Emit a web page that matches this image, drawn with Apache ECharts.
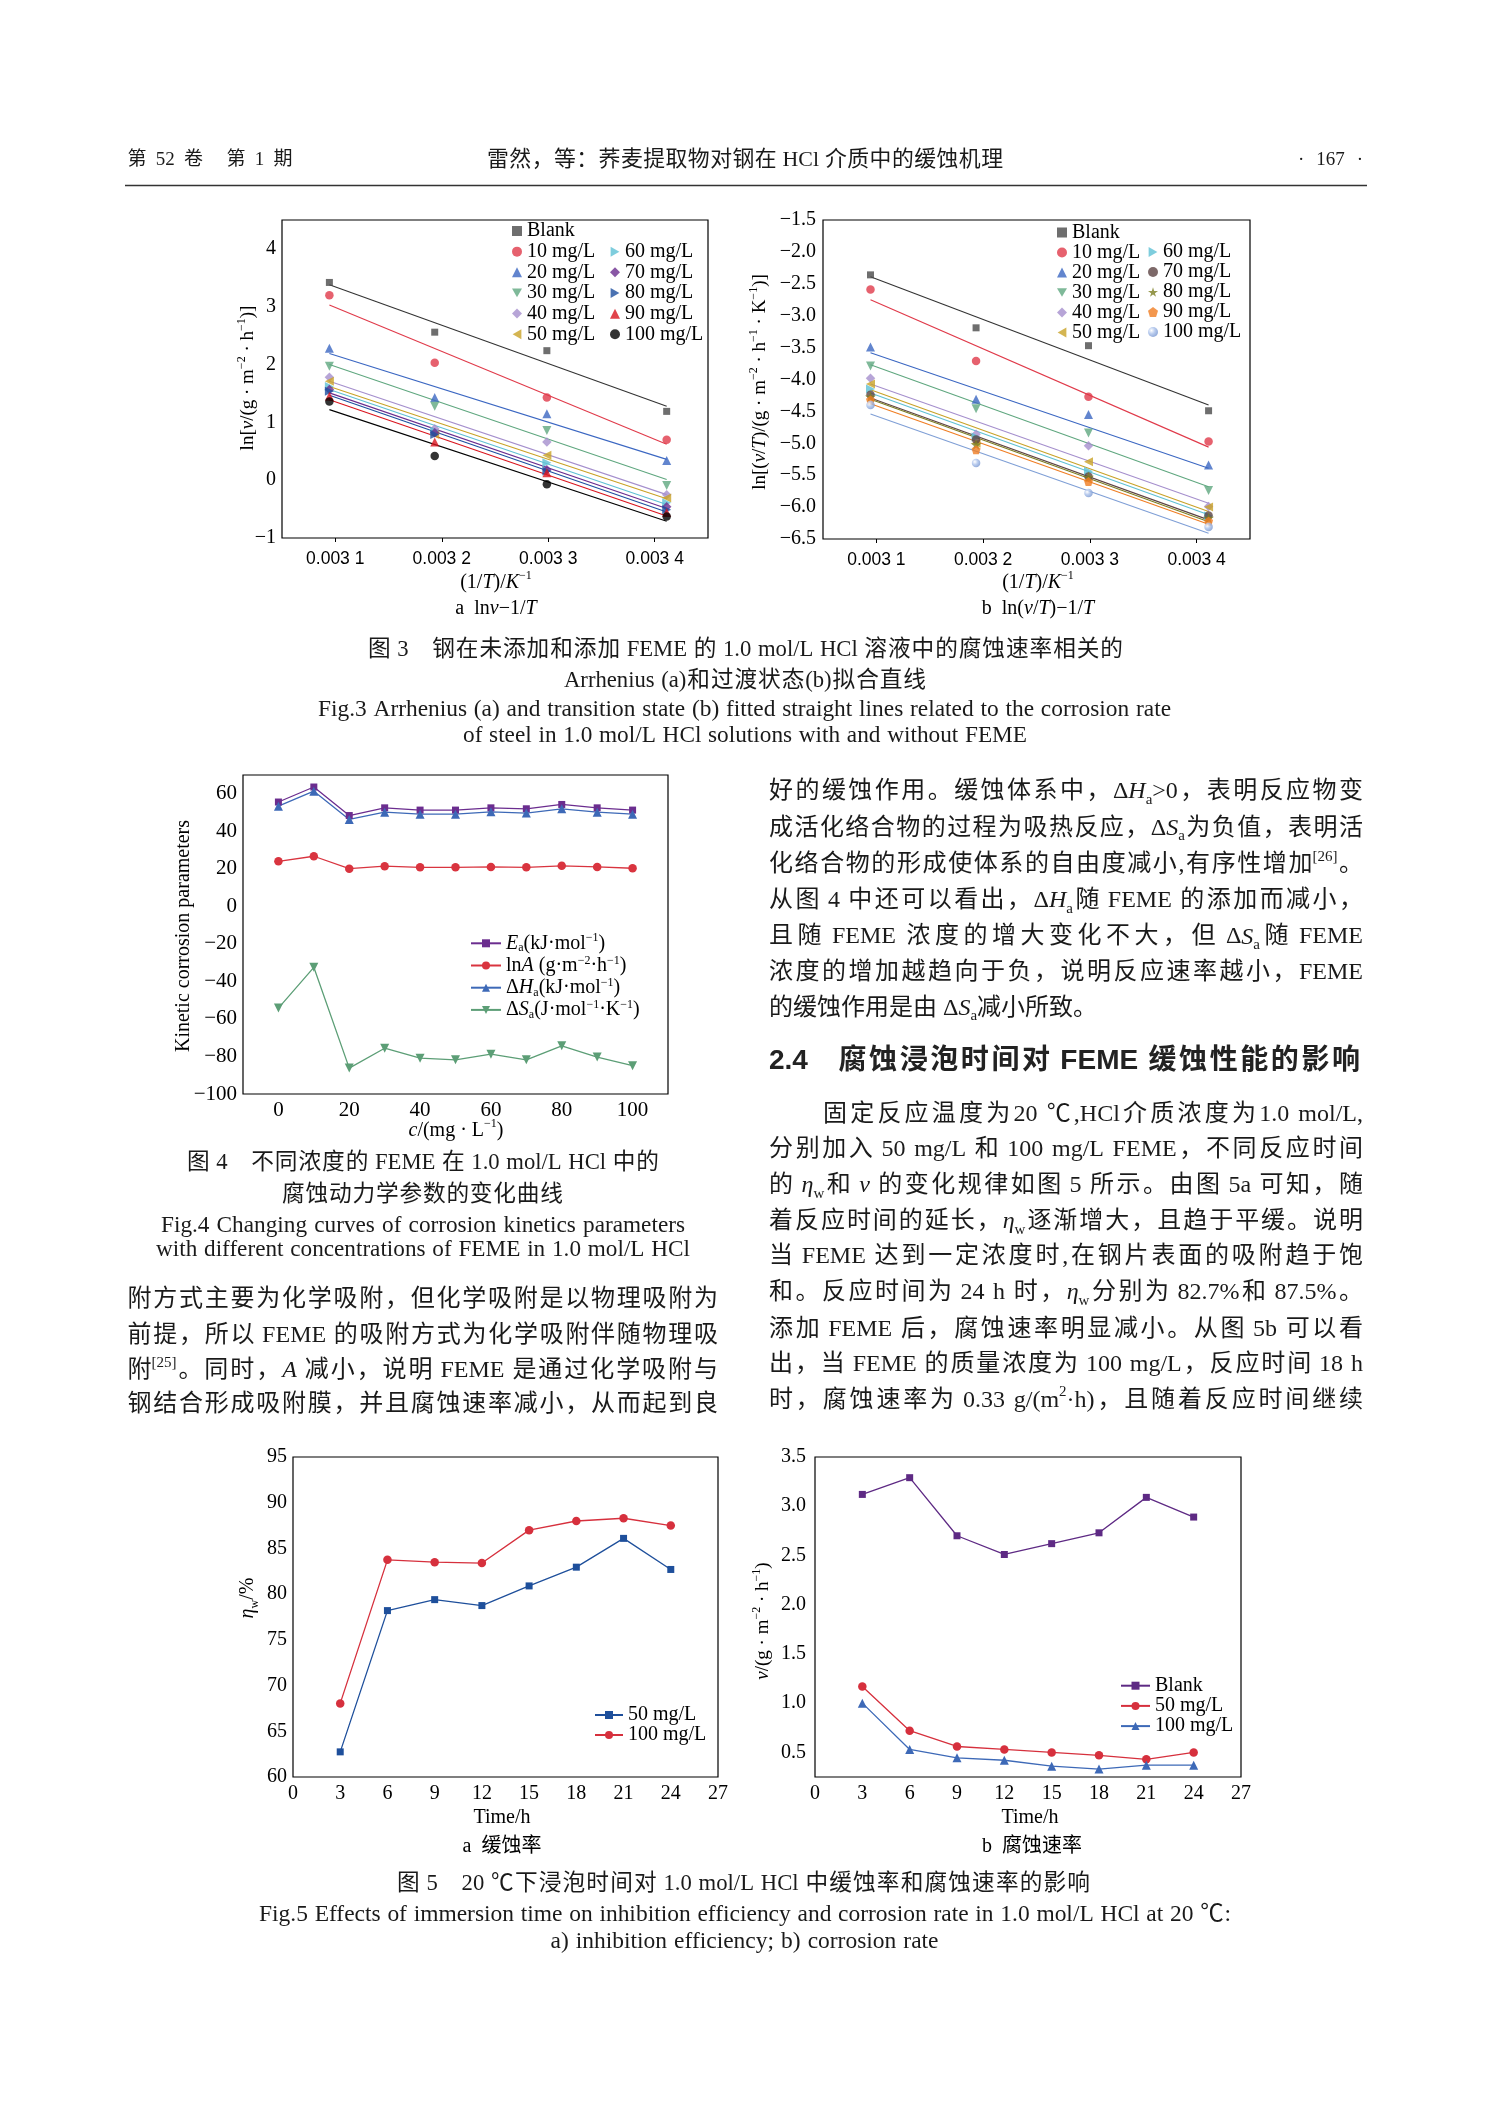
<!DOCTYPE html>
<html><head><meta charset="utf-8">
<script src="https://cdn.jsdelivr.net/npm/echarts@6/dist/echarts.min.js"></script>
<style>html,body{margin:0;padding:0;background:#fff}#c{width:1489px;height:2106px}</style>
</head><body><div id="c"></div><script>
// ================= DATA =================
// Fig.3 : x = 1/T (K^-1)
const invT = [0.0030945, 0.0031934, 0.0032987, 0.0034112];
const xTicks3 = [0.0031, 0.0032, 0.0033, 0.0034];
const conc3 = ['Blank','10 mg/L','20 mg/L','30 mg/L','40 mg/L','50 mg/L','60 mg/L','70 mg/L','80 mg/L','90 mg/L','100 mg/L'];
// Fig.3a ln v
const lnV = [
  [3.42, 2.56, 2.24, 1.19],
  [3.20, 2.03, 1.43, 0.70],
  [2.28, 1.43, 1.15, 0.34],
  [1.97, 1.28, 0.86, -0.09],
  [1.78, 0.89, 0.66, -0.25],
  [1.71, 0.79, 0.43, -0.31],
  [1.62, 0.85, 0.30, -0.39],
  [1.57, 0.82, 0.18, -0.46],
  [1.54, 0.79, 0.16, -0.51],
  [1.45, 0.66, 0.13, -0.56],
  [1.36, 0.42, -0.07, -0.63]
];
// fitted line values at first and last 1/T
const lnVFit = [[3.38,1.28],[3.03,0.62],[2.19,0.36],[2.00,0.01],[1.71,-0.25],[1.62,-0.32],[1.57,-0.42],[1.51,-0.49],[1.47,-0.55],[1.39,-0.62],[1.22,-0.71]];
// Fig.3b ln(v/T)
const lnVT = [
  [-2.36, -3.19, -3.47, -4.49],
  [-2.59, -3.71, -4.27, -4.97],
  [-3.49, -4.31, -4.55, -5.34],
  [-3.79, -4.46, -4.84, -5.74],
  [-3.98, -4.86, -5.04, -5.99],
  [-4.07, -5.00, -5.29, -6.00],
  [-4.15, -4.90, -5.44, -6.14],
  [-4.24, -4.94, -5.52, -6.13],
  [-4.27, -5.02, -5.53, -6.17],
  [-4.32, -5.10, -5.60, -6.22],
  [-4.40, -5.31, -5.78, -6.31]
];
const lnVTFit = [[-2.39,-4.40],[-2.75,-5.06],[-3.58,-5.39],[-3.77,-5.68],[-4.07,-5.94],[-4.16,-6.07],[-4.21,-6.12],[-4.29,-6.20],[-4.31,-6.23],[-4.38,-6.27],[-4.54,-6.41]];
// Fig.4
const conc4 = [0,10,20,30,40,50,60,70,80,90,100];
const Ea  = [55.6,63.6,48.4,52.5,51.3,51.3,52.5,52.0,54.3,52.5,51.3];
const lnA = [24.0,26.7,20.1,21.4,20.8,20.8,21.0,20.8,21.6,21.0,20.3];
const dHa = [53.4,61.4,46.3,50.2,49.1,49.1,50.4,49.7,52.0,50.2,49.1];
const dSa = [-54.2,-32.5,-86.2,-75.6,-80.9,-81.8,-78.8,-81.8,-74.3,-80.3,-84.9];
// Fig.5
const hours = [3,6,9,12,15,18,21,24];
const eta50  = [62.75,78.2,79.4,78.75,80.9,82.95,86.1,82.7];
const eta100 = [68.05,83.75,83.5,83.4,87.0,88.0,88.3,87.5];
const vBlank = [3.12,3.29,2.70,2.51,2.62,2.73,3.09,2.89];
const v50    = [1.17,0.72,0.56,0.53,0.50,0.47,0.43,0.50];
const v100   = [1.00,0.53,0.445,0.42,0.36,0.33,0.37,0.37];

// ================= STYLES =================
const SERIF = "'Liberation Serif'";
const FAM = "'Liberation Serif','Noto Sans CJK SC'";
const SANS = "'Liberation Sans','Noto Sans CJK SC'";
const TXT = '#1a1a1a';
const STAR = 'path://M50,0 L61,35 L98,35 L68,57 L79,91 L50,70 L21,91 L32,57 L2,35 L39,35 Z';
const PENT = 'path://M50,0 L100,38 L81,100 L19,100 L0,38 Z';
const TDOWN = 'path://M0,0 L100,0 L50,87 Z';
const TLEFT = 'path://M87,0 L87,100 L0,50 Z';
const TRIGHT = 'path://M0,0 L0,100 L87,50 Z';
const colA = ['#4a4a4a','#e03a4a','#3b67c2','#5fa77f','#a58fcd','#c9a227','#5ec0d4','#6b2d8f','#1d4f9f','#d9141e','#000000'];
const lineA = ['#333333','#e03a4a','#3b67c2','#5fa77f','#a58fcd','#c9a227','#5ec0d4','#6b2d8f','#1d4f9f','#d9141e','#000000'];
const symA = ['rect','circle','triangle',TDOWN,'diamond',TLEFT,TRIGHT,'diamond',TRIGHT,'triangle','circle'];
const sphere = {type:'radial',x:0.35,y:0.35,r:0.75,colorStops:[{offset:0,color:'#ffffff'},{offset:0.45,color:'#a9c0ea'},{offset:1,color:'#6f8fcb'}]};
const colB = ['#4a4a4a','#e03a4a','#3b67c2','#5fa77f','#a58fcd','#c9a227','#5ec0d4','#5d4343','#7c7e22','#f07d22',sphere];
const lineB = ['#333333','#e03a4a','#3b67c2','#5fa77f','#a58fcd','#c9a227','#5ec0d4','#5d4343','#7c7e22','#f07d22','#7f9fd6'];
const symB = ['rect','circle','triangle',TDOWN,'diamond',TLEFT,TRIGHT,'circle',STAR,PENT,'circle'];
function symSize(s){ return s==='rect'?7 : s==='circle'?8.5 : s==='diamond'?9.5 : s===STAR?11 : s===PENT?9 : 9; }

// ================= TEXT HELPERS =================
const mctx = document.createElement('canvas').getContext('2d');
function partStyle(k, size, fam, weight){
  const small = Math.round(size*0.62);
  return {fontSize:(k==='sub'||k==='sup')?small:size, fontFamily:fam, fontWeight:weight||'normal', fontStyle:k==='it'?'italic':'normal'};
}
function measure(t, s){ mctx.font = s.fontStyle+' '+s.fontWeight+' '+s.fontSize+'px '+s.fontFamily; return mctx.measureText(t).width; }
function makeRich(size, fam, weight, color, lhOverride){
  const lh = lhOverride || Math.round(size*1.3), small = Math.round(size*0.62);
  const base = {fontFamily:fam, fontWeight:weight||'normal', fill:color, color:color};
  return {
    n: Object.assign({}, base, {fontSize:size, lineHeight:lh}),
    it: Object.assign({}, base, {fontSize:size, lineHeight:lh, fontStyle:'italic'}),
    sub: Object.assign({}, base, {fontSize:small, lineHeight:Math.round(small*1.15), verticalAlign:'bottom'}),
    sup: Object.assign({}, base, {fontSize:small, lineHeight:Math.round(small*1.15), verticalAlign:'top'})
  };
}
function parse(s){
  const out=[]; let i=0; const map={i:'it','_':'sub','^':'sup'};
  while(i<s.length){
    if(s[i]==='{'){ const j=s.indexOf('}',i); const b=s.slice(i+1,j); const c=b.indexOf(':'); out.push({k:map[b.slice(0,c)], t:b.slice(c+1)}); i=j+1; }
    else { out.push({k:'n', t:s[i]}); i++; }
  }
  return out;
}
function merge(parts){ const o=[]; for(const p of parts){ const l=o[o.length-1]; if(l&&l.k===p.k) l.t+=p.t; else o.push({k:p.k,t:p.t}); } return o; }
function toRich(parts){ return parts.map(p=>'{'+p.k+'|'+p.t+'}').join(''); }
function richText(m){ return toRich(merge(parse(m))); }
const CJK = /[\u2E80-\u9FFF\u3001-\u303F\uFF00-\uFFEF\u2103]/;
function layoutWords(markup, size, fam, weight){
  const pieces = parse(markup);
  const words=[]; let cur=null; let sp=0;
  for(const p of pieces){
    if(p.k==='n' && (p.t===' '||p.t==='\u3000')){ sp += measure(p.t, partStyle('n',size,fam,weight)); cur=null; continue; }
    if(p.k==='sub'||p.k==='sup'){ if(words.length) words[words.length-1].parts.push(p); continue; }
    if(p.k==='n' && CJK.test(p.t)){ words.push({parts:[p], sp}); sp=0; cur=null; continue; }
    if(!cur){ cur={parts:[], sp}; sp=0; words.push(cur); }
    cur.parts.push(p);
  }
  for(const w of words){ w.parts=merge(w.parts); w.w=w.parts.reduce((a,p)=>a+measure(p.t, partStyle(p.k,size,fam,weight)),0); }
  const nat = words.reduce((a,w,i)=>a+w.w+(i?w.sp:0),0);
  return {words, nat};
}
function textLine(markup, x, y, o){
  let size=o.size; const fam=o.fam||FAM, weight=o.weight, color=o.color||TXT;
  let L = layoutWords(markup, size, fam, weight);
  if(o.fit && o.width){
    const target = size*o.width/L.nat*(o.fitK||0.985);
    size = Math.max(size*0.85, Math.min(size*(o.maxK||1.2), target));
    L = layoutWords(markup, size, fam, weight);
  }
  const words=L.words, nat=L.nat;
  let extra=0, x0=x;
  if(o.width && words.length>1) extra=(o.width-nat)/(words.length-1);
  else if(o.align==='center') x0=x-nat/2;
  else if(o.align==='right') x0=x-nat;
  const rich=makeRich(size,fam,weight,color);
  const els=[]; let pos=x0;
  words.forEach((w,i)=>{
    if(i) pos+=w.sp+extra;
    els.push({type:'text', x:pos, y:y, silent:true, z:10,
      style:{text:toRich(w.parts), rich:rich, align:'left', verticalAlign:'middle', textAlign:'left', textVerticalAlign:'middle'}});
    pos+=w.w;
  });
  return els;
}
function label(markup, x, y, size, rot, fam){
  return {type:'text', x:x, y:y, rotation:rot||0, silent:true, z:10,
    style:{text:richText(markup), rich:makeRich(size, fam||FAM, 'normal', '#000'), align:'center', verticalAlign:'middle', textAlign:'center', textVerticalAlign:'middle'}};
}

// ================= AXES =================
const minus = v => String(v).replace('-', '\u2212');
function vAxis(gi, min, max, interval, custom, fmt, o){
  return {type:'value', gridIndex:gi, min:min, max:max, interval:interval,
    axisLine:{show:false, onZero:false}, splitLine:{show:false},
    axisTick:{show:!!o.tick, length:4, inside:false, lineStyle:{color:'#000', width:1}, customValues:custom},
    axisLabel:{customValues:custom, formatter:fmt, fontSize:o.fs, fontFamily:o.ff||SERIF, color:'#000', margin:o.m}};
}
const fmtX3 = v => { const k=Math.round(v*10000); if(Math.abs(v*10000-k)>1e-6||k<31||k>34) return ''; return '0.003 '+(k-30); };
const grids = [
  {left:282, top:220, width:426, height:318},
  {left:823, top:220, width:427, height:319},
  {left:243, top:775, width:425, height:319},
  {left:293, top:1457, width:425, height:320},
  {left:815, top:1457, width:426, height:320}
].map(g=>Object.assign(g,{show:true, borderColor:'#000', borderWidth:1.2, backgroundColor:'transparent'}));

const xAxes = [
  vAxis(0, 0.00305, 0.00345, 0.00005, xTicks3, fmtX3, {fs:17.5, ff:"'Liberation Sans'", m:12, tick:true}),
  vAxis(1, 0.00305, 0.00345, 0.00005, xTicks3, fmtX3, {fs:17.5, ff:"'Liberation Sans'", m:12, tick:true}),
  vAxis(2, -10, 110, 10, [0,20,40,60,80,100], v => (v%20===0 && v>=0 && v<=100) ? String(v) : '', {fs:21, m:6}),
  vAxis(3, 0, 27, 3, undefined, v => String(v), {fs:20, m:7}),
  vAxis(4, 0, 27, 3, undefined, v => String(v), {fs:20, m:7})
];
const yAxes = [
  vAxis(0, -1, 4.5, 0.5, [-1,0,1,2,3,4], v => (Number.isInteger(v) && v<=4) ? minus(v) : '', {fs:20, m:6}),
  vAxis(1, -6.5, -1.5, 0.5, [-6.5,-6,-5.5,-5,-4.5,-4,-3.5,-3,-2.5,-2,-1.5], v => minus(v.toFixed(1)), {fs:20, m:7}),
  vAxis(2, -100, 70, 10, [-100,-80,-60,-40,-20,0,20,40,60], v => (v%20===0 && v<=60) ? minus(v) : '', {fs:21, m:6}),
  vAxis(3, 60, 95, 5, undefined, v => String(v), {fs:20, m:6}),
  vAxis(4, 0.25, 3.5, 0.25, [0.5,1,1.5,2,2.5,3,3.5], v => (Math.abs(v*2-Math.round(v*2))<1e-9 && v>=0.5) ? v.toFixed(1) : '', {fs:20, m:9})
];

// ================= SERIES =================
const series = [];
conc3.forEach((nm,i)=>{
  series.push({name:'a:fit'+i, type:'line', xAxisIndex:0, yAxisIndex:0, silent:true, symbol:'none', z:2,
    data:[[invT[0], lnVFit[i][0]],[invT[3], lnVFit[i][1]]], lineStyle:{color:lineA[i], width:1.1}});
  series.push({name:'a:'+nm, type:'scatter', xAxisIndex:0, yAxisIndex:0, z:3,
    data:invT.map((x,j)=>[x, lnV[i][j]]), symbol:symA[i], symbolSize:symSize(symA[i]), itemStyle:{color:colA[i]}});
});
conc3.forEach((nm,i)=>{
  series.push({name:'b:fit'+i, type:'line', xAxisIndex:1, yAxisIndex:1, silent:true, symbol:'none', z:2,
    data:[[invT[0], lnVTFit[i][0]],[invT[3], lnVTFit[i][1]]], lineStyle:{color:lineB[i], width:1.1}});
  series.push({name:'b:'+nm, type:'scatter', xAxisIndex:1, yAxisIndex:1, z:3,
    data:invT.map((x,j)=>[x, lnVT[i][j]]), symbol:symB[i], symbolSize:symSize(symB[i]), itemStyle:{color:colB[i]}});
});
function lineSeries(name, xi, xs, ys, color, sym, size){
  return {name:name, type:'line', xAxisIndex:xi, yAxisIndex:xi, data:xs.map((x,j)=>[x, ys[j]]),
    symbol:sym, symbolSize:size, showAllSymbol:true,
    lineStyle:{color:color, width:1.3}, itemStyle:{color:color}};
}
series.push(lineSeries('Ea', 2, conc4, Ea, '#6b2d8f', 'rect', 7));
series.push(lineSeries('lnA', 2, conc4, lnA, '#d9343f', 'circle', 8.5));
series.push(lineSeries('dHa', 2, conc4, dHa, '#3d69b7', 'triangle', 9));
series.push(lineSeries('dSa', 2, conc4, dSa, '#5c9e76', TDOWN, 9));
series.push(lineSeries('c:50 mg/L', 3, hours, eta50, '#1e4f9b', 'rect', 7));
series.push(lineSeries('c:100 mg/L', 3, hours, eta100, '#d6303d', 'circle', 8.5));
series.push(lineSeries('d:Blank', 4, hours, vBlank, '#5e2a84', 'rect', 7));
series.push(lineSeries('d:50 mg/L', 4, hours, v50, '#d6303d', 'circle', 8.5));
series.push(lineSeries('d:100 mg/L', 4, hours, v100, '#3d69b7', 'triangle', 9));

// ================= LEGENDS =================
const strip = n => n.slice(n.indexOf(':')+1);
function legend(data, left, top, o){
  return {data:data, left:left, top:top, orient:'vertical', padding:0, itemGap:o.gap, itemWidth:o.iw, itemHeight:o.ih||10,
    selectedMode:false, formatter:o.fmt||strip,
    textStyle:Object.assign({fontSize:o.fs||20, fontFamily:SERIF, color:'#000', lineHeight:o.lh||20}, o.rich?{rich:o.rich}:{})};
}
const fig4Names = {
  Ea:'{it|E}{sub|a}{n|(kJ·mol}{sup|\u22121}{n|)}',
  lnA:'{n|ln}{it|A}{n| (g·m}{sup|\u22122}{n|·h}{sup|\u22121}{n|)}',
  dHa:'{n|\u0394}{it|H}{sub|a}{n|(kJ·mol}{sup|\u22121}{n|)}',
  dSa:'{n|\u0394}{it|S}{sub|a}{n|(J·mol}{sup|\u22121}{n|·K}{sup|\u22121}{n|)}'
};
const legends = [
  legend(conc3.slice(0,6).map(n=>'a:'+n), 512, 221, {gap:0.65, iw:10}),
  legend(conc3.slice(6).map(n=>'a:'+n), 610, 241.7, {gap:0.65, iw:10}),
  legend(conc3.slice(0,6).map(n=>'b:'+n), 1057, 222.5, {gap:0, iw:10, lh:19.4}),
  legend(conc3.slice(6).map(n=>'b:'+n), 1148, 242, {gap:0, iw:10, lh:19.4}),
  legend(['Ea','lnA','dHa','dSa'], 470, 932.3, {gap:0.2, iw:30, ih:10, lh:22, fmt:n=>fig4Names[n], rich:makeRich(20, SERIF, 'normal', '#000', 22)}),
  legend(['c:50 mg/L','c:100 mg/L'], 594, 1705, {gap:0, iw:28, ih:10}),
  legend(['d:Blank','d:50 mg/L','d:100 mg/L'], 1120, 1675.7, {gap:0.2, iw:29, ih:10})
];

// ================= PAGE TEXT =================
let els = [];
const add = a => { els = els.concat(a); };
// header
add(textLine('第 52 卷　第 1 期', 127.5, 160, {size:19, width:165}));
add(textLine('雷然，等：荞麦提取物对钢在 HCl 介质中的缓蚀机理', 487, 160, {size:19, width:516, fit:true, maxK:1.15}));
add(textLine('· 167 ·', 1298, 160, {size:19, width:65}));
els.push({type:'line', silent:true, shape:{x1:125, y1:185.5, x2:1367, y2:185.5}, style:{stroke:'#333', lineWidth:1.6}});
// fig 3 axis names
els.push(label('ln[{i:v}/(g · m{^:\u22122} · h{^:\u22121})]', 248, 378, 19, Math.PI/2));
els.push(label('ln[({i:v}/{i:T})/(g · m{^:\u22122} · h{^:\u22121} · K{^:\u22121})]', 760, 382, 19, Math.PI/2));
els.push(label('(1/{i:T})/{i:K}{^:\u22121}', 496, 583, 20));
els.push(label('a  ln{i:v}\u22121/{i:T}', 496, 609, 20));
els.push(label('(1/{i:T})/{i:K}{^:\u22121}', 1038, 583, 20));
els.push(label('b  ln({i:v}/{i:T})\u22121/{i:T}', 1038, 609, 20));
// fig 3 caption
const CAP = {size:21, fit:true, maxK:1.08};
const CAPE = {size:20, fit:true, maxK:1.22};
add(textLine('图 3　钢在未添加和添加 FEME 的 1.0 mol/L HCl 溶液中的腐蚀速率相关的', 368, 650, Object.assign({width:755}, CAP)));
add(textLine('Arrhenius (a)和过渡状态(b)拟合直线', 564, 681, Object.assign({width:362}, CAP)));
add(textLine('Fig.3 Arrhenius (a) and transition state (b) fitted straight lines related to the corrosion rate', 318, 710, Object.assign({width:853}, CAPE)));
add(textLine('of steel in 1.0 mol/L HCl solutions with and without FEME', 463, 736, Object.assign({width:564}, CAPE)));
// fig 4 names
els.push(label('Kinetic corrosion parameters', 184, 936, 20, Math.PI/2));
els.push(label('{i:c}/(mg · L{^:\u22121})', 456, 1131, 20));
// fig 4 caption
add(textLine('图 4　不同浓度的 FEME 在 1.0 mol/L HCl 中的', 187, 1163, Object.assign({width:472}, CAP)));
add(textLine('腐蚀动力学参数的变化曲线', 282, 1195, Object.assign({width:281}, CAP)));
add(textLine('Fig.4 Changing curves of corrosion kinetics parameters', 161, 1226, Object.assign({width:524}, CAPE)));
add(textLine('with different concentrations of FEME in 1.0 mol/L HCl', 156, 1250, Object.assign({width:534}, CAPE)));
// right column paragraph 1
const RX = 769, RW = 594, BS = 24;
const rightP1 = [
  '好的缓蚀作用。缓蚀体系中，Δ{i:H}{_:a}>0，表明反应物变',
  '成活化络合物的过程为吸热反应，Δ{i:S}{_:a}为负值，表明活',
  '化络合物的形成使体系的自由度减小,有序性增加{^:[26]}。',
  '从图 4 中还可以看出，Δ{i:H}{_:a}随 FEME 的添加而减小，',
  '且随 FEME 浓度的增大变化不大，但 Δ{i:S}{_:a}随 FEME',
  '浓度的增加越趋向于负，说明反应速率越小，FEME',
  '的缓蚀作用是由 Δ{i:S}{_:a}减小所致。'
];
const rightP1Y = [792, 828.5, 864.7, 901, 937.2, 972.5, 1008.5];
rightP1.forEach((l,i)=> add(textLine(l, RX, rightP1Y[i], i<rightP1.length-1 ? {size:BS, width:RW} : {size:BS})));
add(textLine('2.4　腐蚀浸泡时间对 FEME 缓蚀性能的影响', RX, 1061, {size:28, fam:SANS, weight:'bold', width:591, color:'#222'}));
const rightP2 = [
  '固定反应温度为20 ℃,HCl介质浓度为1.0 mol/L,',
  '分别加入 50 mg/L 和 100 mg/L FEME，不同反应时间',
  '的 {i:η}{_:w}和 {i:v} 的变化规律如图 5 所示。由图 5a 可知，随',
  '着反应时间的延长，{i:η}{_:w}逐渐增大，且趋于平缓。说明',
  '当 FEME 达到一定浓度时,在钢片表面的吸附趋于饱',
  '和。反应时间为 24 h 时，{i:η}{_:w}分别为 82.7%和 87.5%。',
  '添加 FEME 后，腐蚀速率明显减小。从图 5b 可以看',
  '出，当 FEME 的质量浓度为 100 mg/L，反应时间 18 h',
  '时，腐蚀速率为 0.33 g/(m{^:2}·h)，且随着反应时间继续'
];
const rightP2Y = [1114.4, 1149.6, 1185.6, 1221.9, 1257, 1293, 1329.3, 1364.4, 1400.4];
rightP2.forEach((l,i)=> add(textLine(l, i===0 ? RX+2*BS+6 : RX, rightP2Y[i], {size:BS, width: i===0 ? RW-2*BS-6 : RW})));
// left column
const LX = 127.5, LW = 590.5;
const leftP = [
  '附方式主要为化学吸附，但化学吸附是以物理吸附为',
  '前提，所以 FEME 的吸附方式为化学吸附伴随物理吸',
  '附{^:[25]}。同时，{i:A} 减小，说明 FEME 是通过化学吸附与',
  '钢结合形成吸附膜，并且腐蚀速率减小，从而起到良'
];
const leftPY = [1299.7, 1336, 1371, 1404.5];
leftP.forEach((l,i)=> add(textLine(l, LX, leftPY[i], {size:BS, width:LW})));
// fig 5 names
els.push(label('{i:η}{_:w}/%', 248, 1598, 20, Math.PI/2));
els.push(label('{i:v}/(g · m{^:\u22122} · h{^:\u22121})', 763, 1621, 19, Math.PI/2));
els.push(label('Time/h', 502, 1817.5, 20));
els.push(label('a  缓蚀率', 502, 1846.5, 20));
els.push(label('Time/h', 1030, 1817.5, 20));
els.push(label('b  腐蚀速率', 1032, 1846.5, 20));
// fig 5 caption
add(textLine('图 5　20 ℃下浸泡时间对 1.0 mol/L HCl 中缓蚀率和腐蚀速率的影响', 397, 1884, Object.assign({width:693}, CAP)));
add(textLine('Fig.5 Effects of immersion time on inhibition efficiency and corrosion rate in 1.0 mol/L HCl at 20 ℃:', 259, 1915, Object.assign({width:972}, CAPE)));
add(textLine('a) inhibition efficiency; b) corrosion rate', 550.5, 1941.5, Object.assign({width:388}, CAPE)));

// ================= CHART =================
const chart = echarts.init(document.getElementById('c'), null, {renderer:'canvas'});
chart.setOption({
  animation:false, backgroundColor:'#ffffff',
  grid:grids, xAxis:xAxes, yAxis:yAxes, legend:legends, series:series,
  graphic:{elements:els}
});
</script></body></html>
